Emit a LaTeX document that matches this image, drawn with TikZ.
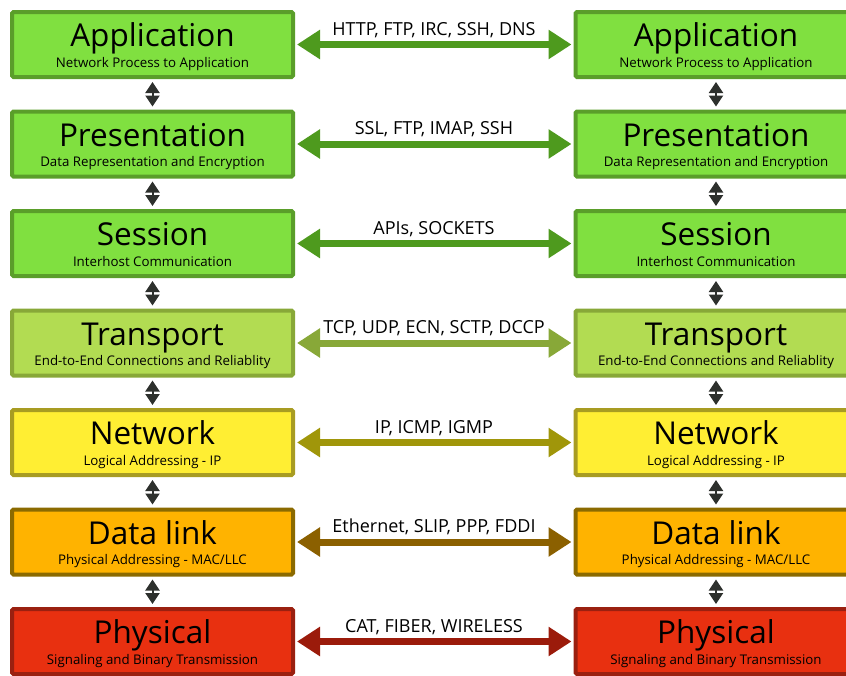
\documentclass[tikz,border=0pt]{standalone}
\usepackage{fontspec}
\setmainfont{Open Sans}
\usetikzlibrary{arrows.meta}
\definecolor{gF}{HTML}{80E040}\definecolor{gB}{HTML}{5A9E2A}\definecolor{gA}{HTML}{4E9A1E}
\definecolor{tF}{HTML}{B2DC52}\definecolor{tB}{HTML}{88A838}\definecolor{tA}{HTML}{88A838}
\definecolor{nF}{HTML}{FFEE33}\definecolor{nB}{HTML}{A89C22}\definecolor{nA}{HTML}{A0960A}
\definecolor{dF}{HTML}{FFB300}\definecolor{dB}{HTML}{8B6A00}\definecolor{dA}{HTML}{8B6000}
\definecolor{pF}{HTML}{E83010}\definecolor{pB}{HTML}{9A2010}\definecolor{pA}{HTML}{9B1B0B}
\definecolor{vA}{HTML}{2D302D}
\tikzset{
  layerbox/.style={draw, line width=4pt, rounded corners=1.5pt, minimum width=281pt, minimum height=65pt, inner sep=0pt},
  titletext/.style={font=\fontsize{31.5}{36}\selectfont, anchor=base, inner sep=0pt},
  subtext/.style={font=\fontsize{13.3}{15}\selectfont, anchor=base, inner sep=0pt},
  prototext/.style={font=\fontsize{18}{20}\selectfont, anchor=base, inner sep=0pt},
  protoarrow/.style={line width=7pt, {Triangle[length=23pt,width=28pt]}-{Triangle[length=23pt,width=28pt]}},
  layerarrow/.style={vA, line width=2pt, {Triangle[length=11pt,width=14pt]}-{Triangle[length=11pt,width=14pt]}}
}
\begin{document}
\begin{tikzpicture}[x=1pt,y=-1pt]
\useasboundingbox (0,0) rectangle (846,675);
\foreach \i/\t/\s/\p/\c in {
  0/Application/{Network Process to Application}/{HTTP, FTP, IRC, SSH, DNS}/g,
  1/Presentation/{Data Representation and Encryption}/{SSL, FTP, IMAP, SSH}/g,
  2/Session/{Interhost Communication}/{APIs, SOCKETS}/g,
  3/Transport/{End-to-End Connections and Reliablity}/{TCP, UDP, ECN, SCTP, DCCP}/t,
  4/Network/{Logical Addressing - IP}/{IP, ICMP, IGMP}/n,
  5/Data link/{Physical Addressing - MAC/LLC}/{Ethernet, SLIP, PPP, FDDI}/d,
  6/Physical/{Signaling and Binary Transmission}/{CAT, FIBER, WIRELESS}/p}{
  \pgfmathsetmacro{\top}{10+99.5*\i}
  \node[layerbox, draw=\c B, fill=\c F] (L\i) at (152.5,\top+34.5) {};
  \node[layerbox, draw=\c B, fill=\c F] (R\i) at (716,\top+34.5) {};
  \node[titletext] (LT\i) at (152.5,\top+36.5) {\t};
  \node[subtext] (LS\i) at (152.5,\top+57) {\s};
  \node[titletext] (RT\i) at (716,\top+36.5) {\t};
  \node[subtext] (RS\i) at (716,\top+57) {\s};
  \node[prototext] (P\i) at (434,\top+25) {\p};
  \draw[protoarrow, \c A] ([xshift=2pt]L\i.east) -- ([xshift=-2pt]R\i.west);
}
\foreach \i [evaluate=\i as \j using int(\i+1)] in {0,...,5}{
  \draw[layerarrow] ([yshift=-3pt]L\i.south) -- ([yshift=3pt]L\j.north);
  \draw[layerarrow] ([yshift=-3pt]R\i.south) -- ([yshift=3pt]R\j.north);
}
\end{tikzpicture}
\end{document}
